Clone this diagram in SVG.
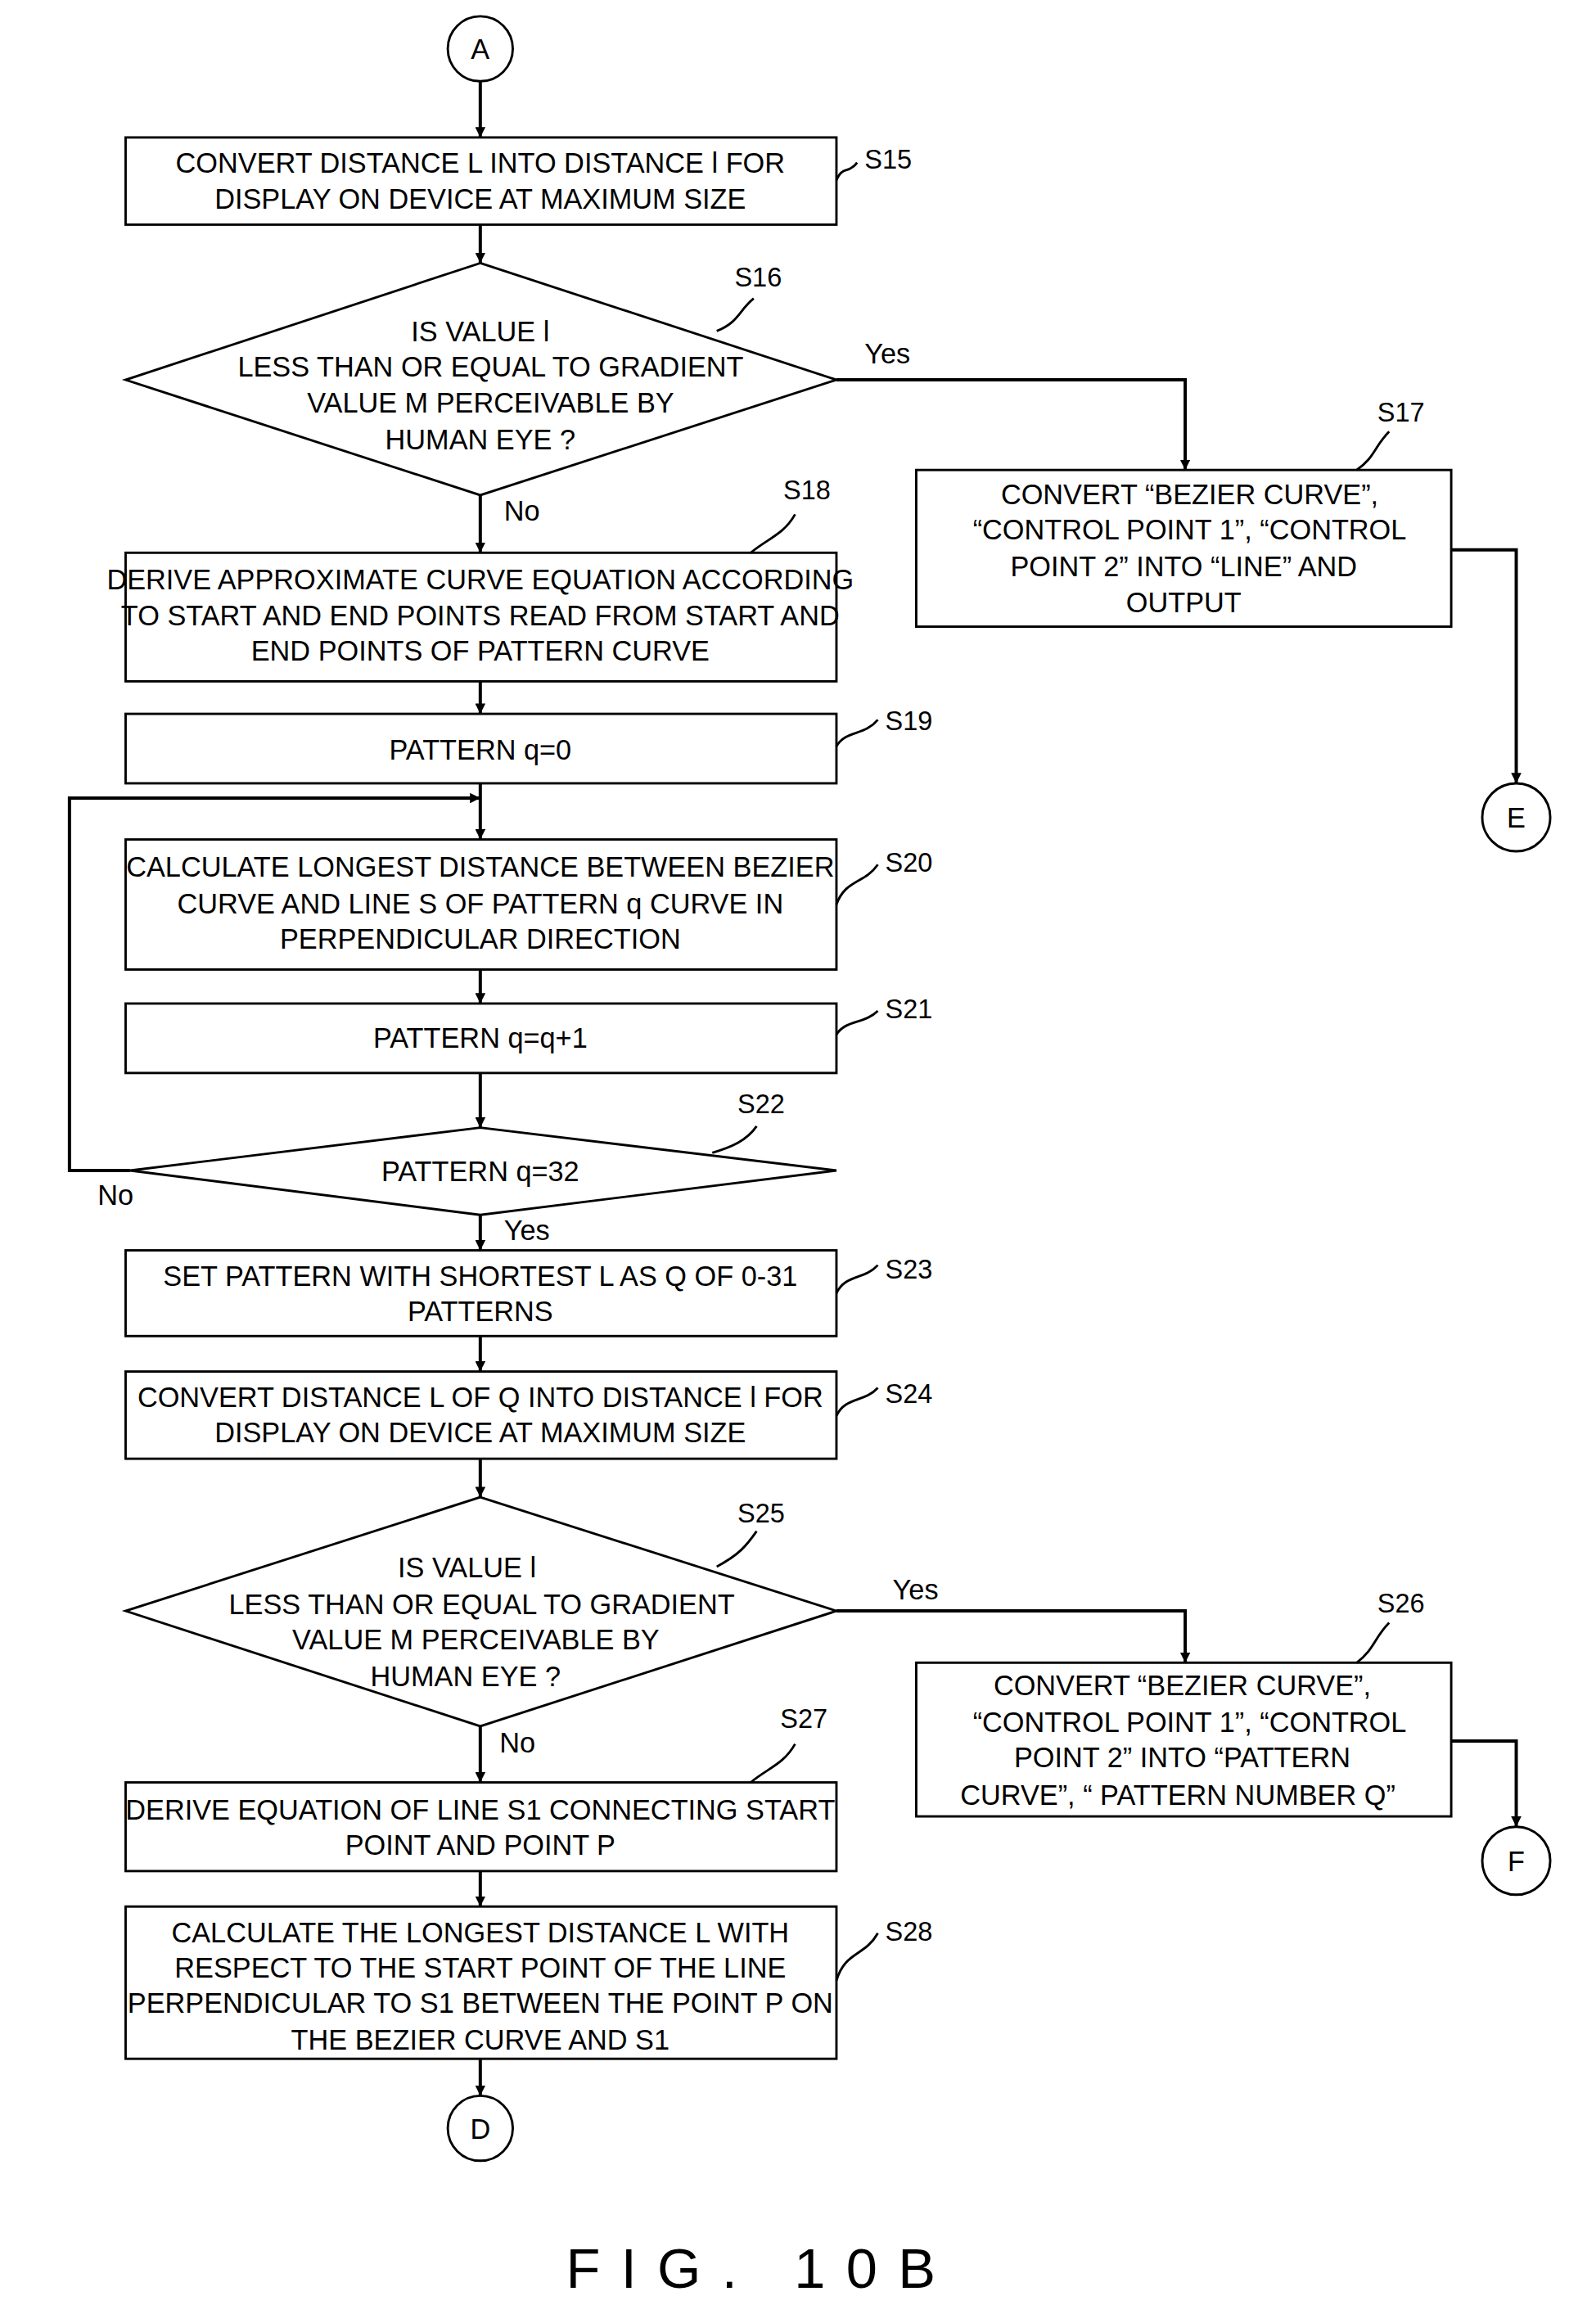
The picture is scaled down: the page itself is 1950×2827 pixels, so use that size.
<svg xmlns="http://www.w3.org/2000/svg" width="1950" height="2827" viewBox="0 0 1950 2827">
<defs>
<marker id="ah" viewBox="0 0 10 10" refX="10" refY="5" markerWidth="7" markerHeight="7" markerUnits="userSpaceOnUse" orient="auto"><path d="M0,0 L10,5 L0,10 z" fill="#000"/></marker>
<style>
.b{fill:#fff;stroke:#000;stroke-width:1.6}
.l{fill:none;stroke:#000;stroke-width:1.6}
.c{fill:none;stroke:#000;stroke-width:2.2}
text{font-family:"Liberation Sans",Arial,sans-serif;font-size:19px;fill:#000}
.m{text-anchor:middle}
.s{font-size:18px}
</style>
</defs>
<rect width="1950" height="2827" fill="#fff"/>
<g transform="scale(1.8056)">
<g id="connectors">
<path class="c" d="M325,55 V93" marker-end="url(#ah)"/>
<path class="c" d="M325,152 V178" marker-end="url(#ah)"/>
<path class="c" d="M566,257 H802 V318" marker-end="url(#ah)"/>
<path class="c" d="M982,372 H1026 V530" marker-end="url(#ah)"/>
<path class="c" d="M325,335 V374" marker-end="url(#ah)"/>
<path class="c" d="M325,461 V483" marker-end="url(#ah)"/>
<path class="c" d="M325,530 V568" marker-end="url(#ah)"/>
<path class="c" d="M88,792 H47 V540 H325" marker-end="url(#ah)"/>
<path class="c" d="M325,656 V679" marker-end="url(#ah)"/>
<path class="c" d="M325,726 V763" marker-end="url(#ah)"/>
<path class="c" d="M325,822 V846" marker-end="url(#ah)"/>
<path class="c" d="M325,904 V928" marker-end="url(#ah)"/>
<path class="c" d="M325,987 V1013" marker-end="url(#ah)"/>
<path class="c" d="M566,1090 H802 V1125" marker-end="url(#ah)"/>
<path class="c" d="M982,1178 H1026 V1236" marker-end="url(#ah)"/>
<path class="c" d="M325,1168 V1206" marker-end="url(#ah)"/>
<path class="c" d="M325,1266 V1290" marker-end="url(#ah)"/>
<path class="c" d="M325,1393 V1418" marker-end="url(#ah)"/>
<text x="585" y="246">Yes</text>
<text x="341" y="352">No</text>
<text x="66" y="815">No</text>
<text x="341" y="839">Yes</text>
<text x="604" y="1082">Yes</text>
<text x="338" y="1186">No</text>
</g>
<g id="A"><circle class="l" cx="325" cy="33" r="22"/><text class="m" x="325" y="40">A</text></g>
<g id="S15"><rect class="b" x="85" y="93" width="481" height="59"/>
<text class="m" x="325" y="117">CONVERT DISTANCE L INTO DISTANCE l FOR</text>
<text class="m" x="325" y="141">DISPLAY ON DEVICE AT MAXIMUM SIZE</text>
<path class="l" d="M566,122 C570,112 574,118 580,110"/><text class="s" x="585" y="114">S15</text></g>
<g id="S16"><path class="b" d="M325,178 L566,257 L325,335 L85,257 Z"/>
<text class="m" x="325" y="231">IS VALUE l</text>
<text class="m" x="332" y="255">LESS THAN OR EQUAL TO GRADIENT</text>
<text class="m" x="332" y="279">VALUE M PERCEIVABLE BY</text>
<text class="m" x="325" y="304">HUMAN EYE ?</text>
<path class="l" d="M485,224 C500,218 500,210 510,202"/><text class="s" x="497" y="194">S16</text></g>
<g id="S17"><rect class="b" x="620" y="318" width="362" height="106"/>
<text class="m" x="805" y="341">CONVERT “BEZIER CURVE”,</text>
<text class="m" x="805" y="365">“CONTROL POINT 1”, “CONTROL</text>
<text class="m" x="801" y="390">POINT 2” INTO “LINE” AND</text>
<text class="m" x="801" y="414">OUTPUT</text>
<path class="l" d="M918,318 C930,310 930,302 940,292"/><text class="s" x="932" y="285">S17</text></g>
<g id="E"><circle class="l" cx="1026" cy="553" r="23"/><text class="m" x="1026" y="560">E</text></g>
<g id="S18"><rect class="b" x="85" y="374" width="481" height="87"/>
<text class="m" x="325" y="399">DERIVE APPROXIMATE CURVE EQUATION ACCORDING</text>
<text class="m" x="325" y="423">TO START AND END POINTS READ FROM START AND</text>
<text class="m" x="325" y="447">END POINTS OF PATTERN CURVE</text>
<path class="l" d="M508,374 C520,364 530,362 538,348"/><text class="s" x="530" y="338">S18</text></g>
<g id="S19"><rect class="b" x="85" y="483" width="481" height="47"/>
<text class="m" x="325" y="514">PATTERN q=0</text>
<path class="l" d="M566,505 C572,494 585,498 594,487"/><text class="s" x="599" y="494">S19</text></g>
<g id="S20"><rect class="b" x="85" y="568" width="481" height="88"/>
<text class="m" x="325" y="593">CALCULATE LONGEST DISTANCE BETWEEN BEZIER</text>
<text class="m" x="325" y="618">CURVE AND LINE S OF PATTERN q CURVE IN</text>
<text class="m" x="325" y="642">PERPENDICULAR DIRECTION</text>
<path class="l" d="M566,612 C572,595 585,598 594,585"/><text class="s" x="599" y="590">S20</text></g>
<g id="S21"><rect class="b" x="85" y="679" width="481" height="47"/>
<text class="m" x="325" y="709">PATTERN q=q+1</text>
<path class="l" d="M566,700 C572,690 585,693 594,684"/><text class="s" x="599" y="689">S21</text></g>
<g id="S22"><path class="b" d="M325,763 L566,792 L325,822 L88,792 Z"/>
<text class="m" x="325" y="799">PATTERN q=32</text>
<path class="l" d="M482,780 C495,776 505,772 512,762"/><text class="s" x="499" y="753">S22</text></g>
<g id="S23"><rect class="b" x="85" y="846" width="481" height="58"/>
<text class="m" x="325" y="870">SET PATTERN WITH SHORTEST L AS Q OF 0-31</text>
<text class="m" x="325" y="894">PATTERNS</text>
<path class="l" d="M566,875 C572,862 585,866 594,856"/><text class="s" x="599" y="865">S23</text></g>
<g id="S24"><rect class="b" x="85" y="928" width="481" height="59"/>
<text class="m" x="325" y="952">CONVERT DISTANCE L OF Q INTO DISTANCE l FOR</text>
<text class="m" x="325" y="976">DISPLAY ON DEVICE AT MAXIMUM SIZE</text>
<path class="l" d="M566,958 C572,945 585,949 594,939"/><text class="s" x="599" y="949">S24</text></g>
<g id="S25"><path class="b" d="M325,1013 L566,1090 L325,1168 L85,1090 Z"/>
<text class="m" x="316" y="1067">IS VALUE l</text>
<text class="m" x="326" y="1092">LESS THAN OR EQUAL TO GRADIENT</text>
<text class="m" x="322" y="1116">VALUE M PERCEIVABLE BY</text>
<text class="m" x="315" y="1141">HUMAN EYE ?</text>
<path class="l" d="M485,1060 C500,1052 505,1046 512,1036"/><text class="s" x="499" y="1030">S25</text></g>
<g id="S26"><rect class="b" x="620" y="1125" width="362" height="104"/>
<text class="m" x="800" y="1147">CONVERT “BEZIER CURVE”,</text>
<text class="m" x="805" y="1172">“CONTROL POINT 1”, “CONTROL</text>
<text class="m" x="800" y="1196">POINT 2” INTO “PATTERN</text>
<text class="m" x="797" y="1221">CURVE”, “ PATTERN NUMBER Q”</text>
<path class="l" d="M918,1125 C930,1116 930,1108 940,1098"/><text class="s" x="932" y="1091">S26</text></g>
<g id="F"><circle class="l" cx="1026" cy="1259" r="23"/><text class="m" x="1026" y="1266">F</text></g>
<g id="S27"><rect class="b" x="85" y="1206" width="481" height="60"/>
<text class="m" x="325" y="1231">DERIVE EQUATION OF LINE S1 CONNECTING START</text>
<text class="m" x="325" y="1255">POINT AND POINT P</text>
<path class="l" d="M508,1206 C520,1196 530,1194 538,1180"/><text class="s" x="528" y="1169">S27</text></g>
<g id="S28"><rect class="b" x="85" y="1290" width="481" height="103"/>
<text class="m" x="325" y="1314">CALCULATE THE LONGEST DISTANCE L WITH</text>
<text class="m" x="325" y="1338">RESPECT TO THE START POINT OF THE LINE</text>
<text class="m" x="325" y="1362">PERPENDICULAR TO S1 BETWEEN THE POINT P ON</text>
<text class="m" x="325" y="1387">THE BEZIER CURVE AND S1</text>
<path class="l" d="M566,1340 C572,1320 585,1324 594,1308"/><text class="s" x="599" y="1313">S28</text></g>
<g id="D"><circle class="l" cx="325" cy="1440" r="22"/><text class="m" x="325" y="1447">D</text></g>
<text class="m" x="515" y="1548" style="font-size:38px;letter-spacing:14px">FIG. 10B</text>
</g>
</svg>
